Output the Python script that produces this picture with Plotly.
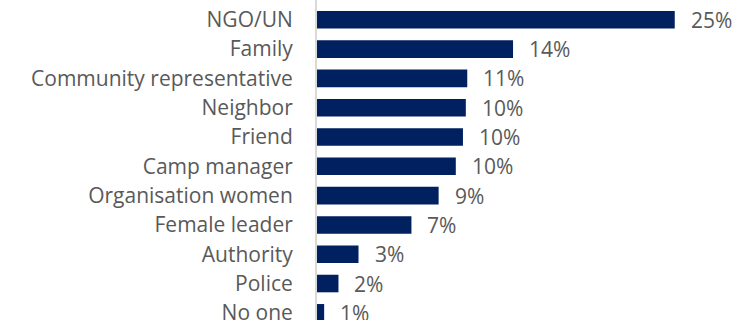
import plotly.graph_objects as go

categories = ["NGO/UN", "Family", "Community representative", "Neighbor", "Friend",
              "Camp manager", "Organisation women", "Female leader", "Authority",
              "Police", "No one"]
values = [25.0, 13.7, 10.5, 10.4, 10.2, 9.7, 8.5, 6.6, 2.9, 1.5, 0.5]
labels = ["25%", "14%", "11%", "10%", "10%", "10%", "9%", "7%", "3%", "2%", "1%"]

FONT = "Open Sans"
GREY = "#595959"
NAVY = "#002060"
FS = 21

fig = go.Figure(go.Bar(
    y=categories, x=values, orientation="h",
    marker=dict(color=NAVY, line=dict(width=0)),
    hoverinfo="skip",
))

for c, v, t in zip(categories, values, labels):
    fig.add_annotation(x=v, y=c, text=t, showarrow=False, xanchor="left",
                       xshift=14, font=dict(family=FONT, size=FS, color=GREY))

fig.update_layout(
    width=753, height=320,
    margin=dict(l=317, r=6, t=0, b=0, autoexpand=False),
    paper_bgcolor="white", plot_bgcolor="white",
    bargap=0.4,
    showlegend=False,
    font=dict(family=FONT, size=FS, color=GREY),
)
fig.update_xaxes(range=[0, 30.05], visible=False, showgrid=False, zeroline=False,
                 automargin=False)
fig.update_yaxes(
    type="category", range=[10.245, -0.676], automargin=False,
    showline=True, linecolor="#d9d9d9", linewidth=2,
    ticks="outside", ticklen=18, tickcolor="rgba(0,0,0,0)",
    showgrid=False, zeroline=False,
    tickfont=dict(family=FONT, size=FS, color=GREY),
)

fig.write_html("out.html")
